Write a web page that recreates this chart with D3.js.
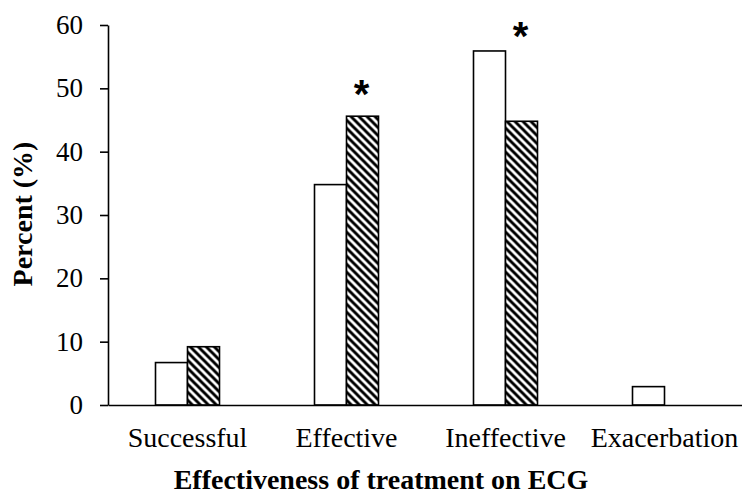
<!DOCTYPE html>
<html>
<head>
<meta charset="utf-8">
<script src="https://cdn.jsdelivr.net/npm/d3@7"></script>
<style>
  body { margin: 0; background: #fff; }
  svg { display: block; }
</style>
</head>
<body>
<div id="chart"></div>
<script>
// data
var categories = ["Successful", "Effective", "Ineffective", "Exacerbation"];
var seriesNames = ["plain", "hatched"];
var plainValues = [6.7, 34.8, 55.9, 2.9];
var hatchedValues = [9.2, 45.6, 44.8, 0];
var yTicks = [0, 10, 20, 30, 40, 50, 60];
// significance marks: category and height in percent
var sigCats = ["Effective", "Ineffective"];
var sigLevels = [49.7, 58.9];

var width = 742, height = 494;
var margin = {left: 108, right: 0, top: 25, bottom: 89};
var serif = "'Liberation Serif', 'Times New Roman', serif";

var svg = d3.select("#chart").append("svg")
    .attr("width", width)
    .attr("height", height);

var defs = svg.append("defs");
var pat = defs.append("pattern")
    .attr("id", "hatch")
    .attr("patternUnits", "userSpaceOnUse")
    .attr("width", 8)
    .attr("height", 8);
pat.append("rect").attr("width", 8).attr("height", 8).attr("fill", "#fff");
pat.append("path")
    .attr("d", "M-2,-2 L10,10 M-2,6 L2,10 M6,-2 L10,2")
    .attr("stroke", "#000")
    .attr("stroke-width", 2.9);

var x0 = d3.scaleBand()
    .domain(categories)
    .range([margin.left, width - margin.right + 2])
    .padding(0);

var groupW = 64;
var x1 = d3.scaleBand()
    .domain(seriesNames)
    .range([0, groupW]);

var y = d3.scaleLinear()
    .domain([0, 60])
    .range([height - margin.bottom, margin.top]);

var rows = categories.map(function(c, i) {
  return {cat: c, vals: [
    {s: "plain", v: plainValues[i]},
    {s: "hatched", v: hatchedValues[i]}
  ]};
});

var groups = svg.selectAll(".grp")
    .data(rows)
    .enter().append("g")
    .attr("class", "grp")
    .attr("transform", function(d) {
      return "translate(" + (x0(d.cat) + (x0.bandwidth() - groupW) / 2) + ",0)";
    });

groups.selectAll("rect")
    .data(function(d) { return d.vals.filter(function(e) { return e.v > 0; }); })
    .enter().append("rect")
    .attr("x", function(d) { return x1(d.s); })
    .attr("y", function(d) { return y(d.v); })
    .attr("width", x1.bandwidth())
    .attr("height", function(d) { return y(0) - y(d.v); })
    .attr("fill", function(d) { return d.s == "hatched" ? "url(#hatch)" : "#fff"; })
    .attr("stroke", "#000")
    .attr("stroke-width", 1.6);

// y axis
var yAxis = d3.axisLeft(y)
    .tickValues(yTicks)
    .tickSize(8)
    .tickPadding(17)
    .tickSizeOuter(0);

var gy = svg.append("g")
    .attr("transform", "translate(" + margin.left + ",0)")
    .call(yAxis);
gy.select(".domain").attr("stroke", "#000").attr("stroke-width", 1.6);
gy.selectAll(".tick line").attr("stroke", "#000").attr("stroke-width", 1.6);
gy.selectAll(".tick text")
    .attr("fill", "#000")
    .style("font-family", serif)
    .style("font-size", "27px");

// x axis
var xAxis = d3.axisBottom(x0).tickSize(0).tickPadding(22).tickSizeOuter(0);
var gx = svg.append("g")
    .attr("transform", "translate(0," + y(0) + ")")
    .call(xAxis);
gx.select(".domain").attr("stroke", "#000").attr("stroke-width", 1.6);
gx.selectAll(".tick text")
    .attr("fill", "#000")
    .style("font-family", serif)
    .style("font-size", "28px");

// significance asterisks above the hatched bars
svg.selectAll(".sig")
    .data(sigCats)
    .enter().append("text")
    .attr("class", "sig")
    .attr("x", function(d) {
      return x0(d) + (x0.bandwidth() - groupW) / 2 + x1("hatched") + x1.bandwidth() / 2 - 1;
    })
    .attr("y", function(d, i) { return y(sigLevels[i]) + 18; })
    .attr("text-anchor", "middle")
    .style("font-family", "'Liberation Sans', Arial, sans-serif")
    .style("font-weight", "bold")
    .style("font-size", "40px")
    .text("*");

// axis titles
svg.append("text")
    .attr("transform", "translate(32,214) rotate(-90)")
    .attr("text-anchor", "middle")
    .style("font-family", serif)
    .style("font-weight", "bold")
    .style("font-size", "28px")
    .text("Percent (%)");

svg.append("text")
    .attr("x", 381)
    .attr("y", 489)
    .attr("text-anchor", "middle")
    .style("font-family", serif)
    .style("font-weight", "bold")
    .style("font-size", "28px")
    .text("Effectiveness of treatment on ECG");
</script>
</body>
</html>
